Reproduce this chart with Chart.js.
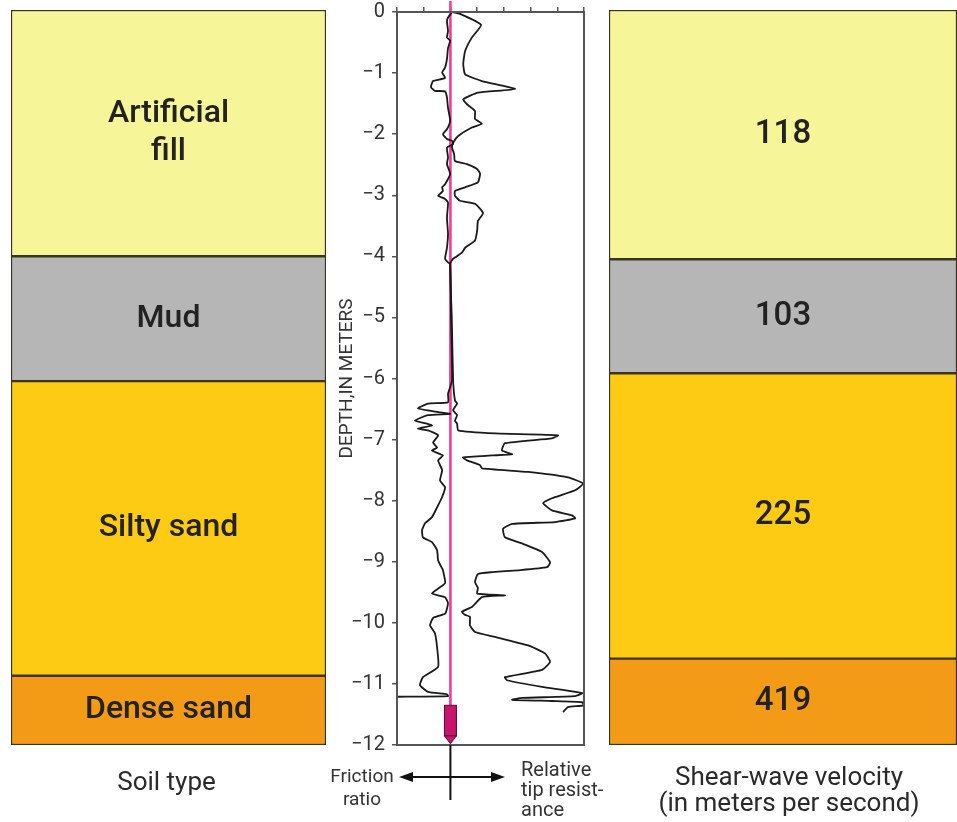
<!DOCTYPE html>
<html><head><meta charset="utf-8">
<script src="https://cdn.jsdelivr.net/npm/chart.js@4.4.1/dist/chart.umd.min.js"></script>
<style>
body{margin:0;background:#fff;width:957px;height:822px;overflow:hidden;position:relative;}
canvas{position:absolute;top:0;}
</style></head><body>
<canvas id="soil" width="340" height="822" style="left:0px"></canvas>
<canvas id="cpt" width="290" height="829" style="left:330px;top:-7px"></canvas>
<canvas id="vel" width="362" height="822" style="left:595px"></canvas>
<script>
// ---- data ----
const soilTypes = ['Artificial\nfill', 'Mud', 'Silty sand', 'Dense sand'];
const soilTop = [0, -4.02, -6.06, -10.87];
const soilBottom = [-4.02, -6.06, -10.87, -12];
const velocities = ['118', '103', '225', '419'];
const velTop = [0, -4.07, -5.93, -10.59];
const velBottom = [-4.07, -5.93, -10.59, -12];
const layerColors = ['#f6f597', '#b6b6b6', '#fdca14', '#f39a16'];

const frictionDepth = [0,-0.09,-0.15,-0.31,-0.42,-0.47,-0.59,-0.77,-0.91,-0.99,-1.08,-1.13,-1.23,-1.29,-1.30,-1.40,-1.57,-1.78,-1.92,-2.00,-2.08,-2.11,-2.16,-2.22,-2.38,-2.49,-2.65,-2.82,-2.87,-2.93,-3.01,-3.06,-3.12,-3.37,-3.63,-3.86,-4.04,-4.10,-4.12,-5.00,-6.03,-6.25,-6.39,-6.41,-6.49,-6.55,-6.58,-6.60,-6.69,-6.74,-6.77,-6.82,-6.85,-6.93,-7.05,-7.13,-7.18,-7.26,-7.34,-7.50,-7.67,-7.78,-7.94,-8.11,-8.27,-8.37,-8.48,-8.60,-8.68,-8.81,-8.98,-9.11,-9.14,-9.35,-9.52,-9.58,-9.68,-9.85,-9.92,-10.04,-10.17,-10.40,-10.72,-10.89,-11.02,-11.13,-11.17,-11.20,-11.21];
const frictionValue = [2.06,1.91,1.87,1.91,1.87,1.99,1.91,1.87,1.80,1.69,1.80,1.35,1.27,1.42,1.80,1.87,1.91,1.99,1.87,1.72,1.87,2.06,2.10,1.87,1.91,1.87,1.99,1.80,1.69,1.72,1.54,1.80,1.91,1.87,1.91,1.87,1.80,1.91,1.99,2.02,2.06,1.91,1.91,1.16,0.79,1.54,1.99,1.16,0.67,1.12,1.31,0.79,1.16,1.54,1.35,1.50,1.31,1.72,1.54,1.69,1.61,1.80,1.69,1.50,1.31,1.05,0.94,0.97,1.31,1.50,1.54,1.69,1.72,1.80,1.31,1.80,1.91,1.80,1.35,1.24,1.42,1.50,1.54,0.97,0.86,1.16,1.87,1.91,0.0];

const tipDepth = [0,-0.03,-0.21,-0.42,-0.64,-0.85,-1.02,-1.13,-1.26,-1.32,-1.43,-1.51,-1.62,-1.75,-1.83,-1.89,-2.03,-2.14,-2.22,-2.33,-2.44,-2.49,-2.57,-2.65,-2.79,-2.87,-2.93,-3.01,-3.09,-3.14,-3.29,-3.42,-3.58,-3.74,-3.86,-3.94,-4.04,-4.12,-5.00,-6.03,-6.36,-6.41,-6.52,-6.60,-6.69,-6.74,-6.85,-6.90,-6.93,-6.98,-7.06,-7.18,-7.24,-7.26,-7.29,-7.34,-7.42,-7.47,-7.53,-7.62,-7.72,-7.83,-7.96,-8.04,-8.16,-8.24,-8.29,-8.35,-8.38,-8.46,-8.60,-8.70,-8.84,-9.01,-9.09,-9.14,-9.17,-9.20,-9.33,-9.43,-9.52,-9.55,-9.58,-9.74,-9.82,-9.87,-9.90,-10.04,-10.15,-10.23,-10.37,-10.50,-10.64,-10.77,-10.89,-10.94,-11.05,-11.15,-11.20,-11.23,-11.26,-11.28,-11.30,-11.35,-11.38,-11.46];
const tipValue = [2.06,2.36,3.15,2.80,2.55,2.48,2.55,3.18,4.42,3.03,2.48,2.62,2.92,2.92,3.18,2.80,2.29,2.10,2.06,2.14,2.17,2.62,3.00,3.11,3.03,2.55,2.17,2.17,2.36,2.92,3.22,3.03,3.00,2.92,2.55,2.43,2.10,1.99,2.05,2.10,2.17,2.25,2.10,2.25,2.17,2.25,2.29,3.67,6.03,5.80,4.04,3.93,4.31,3.56,2.47,2.62,3.11,3.18,4.91,6.40,6.97,6.67,5.80,5.47,5.80,6.55,6.67,5.92,4.31,3.97,4.04,4.68,5.43,5.73,5.62,4.53,3.56,3.03,2.92,3.03,3.00,4.04,3.18,2.80,2.43,2.55,2.73,2.73,2.92,3.67,4.91,5.54,5.73,5.43,4.04,4.12,5.43,6.93,6.67,4.68,4.31,5.80,6.93,6.98,6.40,6.22];

const coneX = 2;
const coneTop = 0.18;
const probeTop = -11.35;
const probeBottom = -11.85;
const probeTip = -11.98;

const FONT = "'Roboto','Liberation Sans',sans-serif";
const WEIGHT = '500';

// ---- layer panels ----
const layerLabelPlugin = {
  id: 'layerLabels',
  afterDatasetsDraw(chart, args, opts) {
    const ctx = chart.ctx;
    const a = chart.chartArea;
    const cx = (a.left + Math.min(a.right, opts.rightEdge || 9999)) / 2;
    ctx.save();
    ctx.fillStyle = '#222';
    ctx.textAlign = 'center';
    ctx.textBaseline = 'middle';
    ctx.font = WEIGHT + ' ' + opts.size + 'px ' + FONT;
    chart.data.datasets.forEach((ds, i) => {
      const bar = chart.getDatasetMeta(i).data[0];
      const cy = (bar.y + bar.base) / 2;
      const lines = ds.label.split('\n');
      const lh = opts.size * 1.2;
      lines.forEach((l, k) => ctx.fillText(l, cx, cy + (k - (lines.length - 1) / 2) * lh));
    });
    ctx.font = opts.capSize + 'px ' + FONT;
    ctx.fillStyle = '#2a2a2a';
    opts.caption.forEach((l, k) => ctx.fillText(l, cx + (opts.capShift || 0), a.bottom + opts.capOffset + k * opts.capGap));
    ctx.restore();
  }
};

function layerChart(id, tops, bottoms, labels, padL, padR, opts) {
  return new Chart(document.getElementById(id), {
    type: 'bar',
    data: {
      labels: ['layers'],
      datasets: tops.map((t, i) => ({
        label: labels[i],
        data: [[bottoms[i], t]],
        backgroundColor: layerColors[i],
        borderColor: '#3b3420',
        borderWidth: 1.5,
        borderSkipped: false,
        grouped: false,
        barPercentage: 1,
        categoryPercentage: 1
      }))
    },
    options: {
      responsive: false,
      animation: false,
      layout: { padding: { left: padL, right: padR, top: 10, bottom: 77 } },
      plugins: { legend: { display: false }, tooltip: { enabled: false }, layerLabels: opts },
      scales: { x: { display: false }, y: { display: false, min: -12, max: 0 } }
    },
    plugins: [layerLabelPlugin]
  });
}

layerChart('soil', soilTop, soilBottom, soilTypes, 11, 14,
  { size: 32, capSize: 26, caption: ['Soil type'], capOffset: 38, capGap: 26, capShift: -2 });
layerChart('vel', velTop, velBottom, velocities, 14, -4,
  { size: 33, capSize: 26, caption: ['Shear-wave velocity', '(in meters per second)'], capOffset: 33, capGap: 26, rightEdge: 362, capShift: 6 });

// ---- CPT log ----
const cptPlugin = {
  id: 'cptExtras',
  afterDatasetsDraw(chart) {
    const { ctx, chartArea: a, scales: { x, y } } = chart;
    ctx.save();
    ctx.strokeStyle = '#555';
    ctx.lineWidth = 2;
    ctx.strokeRect(a.left, a.top, a.right - a.left, a.bottom - a.top);
    const px = x.getPixelForValue(coneX);
    const yt = y.getPixelForValue(probeTop), yb = y.getPixelForValue(probeBottom), ytip = y.getPixelForValue(probeTip);
    ctx.fillStyle = '#c8146c';
    ctx.strokeStyle = '#5a0a30';
    ctx.lineWidth = 1;
    ctx.fillRect(px - 6, yt, 12, yb - yt);
    ctx.strokeRect(px - 6, yt, 12, yb - yt);
    ctx.beginPath();
    ctx.moveTo(px - 6, yb); ctx.lineTo(px + 6, yb); ctx.lineTo(px, ytip); ctx.closePath();
    ctx.fill(); ctx.stroke();
    ctx.restore();
  },
  afterDraw(chart) {
    const { ctx, chartArea: a, scales: { x } } = chart;
    const px = x.getPixelForValue(coneX);
    ctx.save();
    ctx.strokeStyle = '#111';
    ctx.fillStyle = '#111';
    ctx.lineWidth = 2;
    ctx.beginPath();
    ctx.moveTo(px, a.bottom); ctx.lineTo(px, a.bottom + 55);
    const ay = a.bottom + 32;
    ctx.moveTo(a.left + 8, ay); ctx.lineTo(a.left + 100, ay);
    ctx.stroke();
    ctx.beginPath();
    ctx.moveTo(a.left + 2, ay); ctx.lineTo(a.left + 16, ay - 5); ctx.lineTo(a.left + 16, ay + 5); ctx.closePath(); ctx.fill();
    ctx.beginPath();
    ctx.moveTo(a.left + 108, ay); ctx.lineTo(a.left + 94, ay - 5); ctx.lineTo(a.left + 94, ay + 5); ctx.closePath(); ctx.fill();
    ctx.font = '19px ' + FONT;
    ctx.fillStyle = '#333';
    ctx.textBaseline = 'middle';
    ctx.textAlign = 'center';
    ctx.fillText('Friction', a.left - 35, a.bottom + 32);
    ctx.fillText('ratio', a.left - 35, a.bottom + 55);
    ctx.textAlign = 'left';
    ctx.font = '20px ' + FONT;
    ctx.fillText('Relative', a.left + 124, a.bottom + 26);
    ctx.fillText('tip resist-', a.left + 124, a.bottom + 46);
    ctx.fillText('ance', a.left + 124, a.bottom + 66);
    ctx.restore();
  }
};

const toXY = (d, v) => d.map((dd, i) => ({ x: v[i], y: dd }));
const depthTicks = [0, -1, -2, -3, -4, -5, -6, -7, -8, -9, -10, -11, -12];

new Chart(document.getElementById('cpt'), {
  type: 'scatter',
  data: {
    datasets: [
      { label: 'Friction ratio', data: toXY(frictionDepth, frictionValue), showLine: true, borderColor: '#1a1a1a', borderWidth: 1.8, pointRadius: 0, tension: 0.15, order: 1 },
      { label: 'Relative tip resistance', data: toXY(tipDepth, tipValue), showLine: true, borderColor: '#1a1a1a', borderWidth: 1.8, pointRadius: 0, tension: 0.15, order: 1 },
      { label: 'Cone', data: [{ x: coneX, y: coneTop }, { x: coneX, y: probeTop }], showLine: true, borderColor: '#ec3f98', borderWidth: 2.6, pointRadius: 0, order: 2, clip: { left: 2, right: 2, top: 14, bottom: 2 } }
    ]
  },
  options: {
    responsive: false,
    animation: false,
    layout: { padding: { top: 0, bottom: 77, right: 36, left: 0 } },
    plugins: { legend: { display: false }, tooltip: { enabled: false } },
    scales: {
      x: {
        type: 'linear', position: 'top', min: 0, max: 7,
        ticks: { stepSize: 1, display: false },
        grid: { drawOnChartArea: false, drawTicks: true, tickLength: 5, color: '#555', lineWidth: 1.5 },
        border: { display: true, color: '#555', width: 2 },
        afterFit(s) { s.height = 6; }
      },
      y: {
        type: 'linear', min: -12, max: 0,
        afterBuildTicks(s) { s.ticks = depthTicks.map(v => ({ value: v })); },
        ticks: {
          color: '#333', padding: 7,
          font: { family: FONT, size: 20 },
          callback: v => v === 0 ? '0' : '\u2212' + Math.abs(v)
        },
        grid: { drawOnChartArea: false, drawTicks: true, tickLength: 5, color: '#555', lineWidth: 1.5 },
        border: { display: true, color: '#555', width: 2 },
        title: { display: true, text: 'DEPTH,IN METERS', color: '#333', font: { family: FONT, size: 19 }, padding: { top: 6, bottom: 0 } },
        afterFit(s) { s.width = 67; }
      }
    }
  },
  plugins: [cptPlugin]
});
</script>
</body></html>
